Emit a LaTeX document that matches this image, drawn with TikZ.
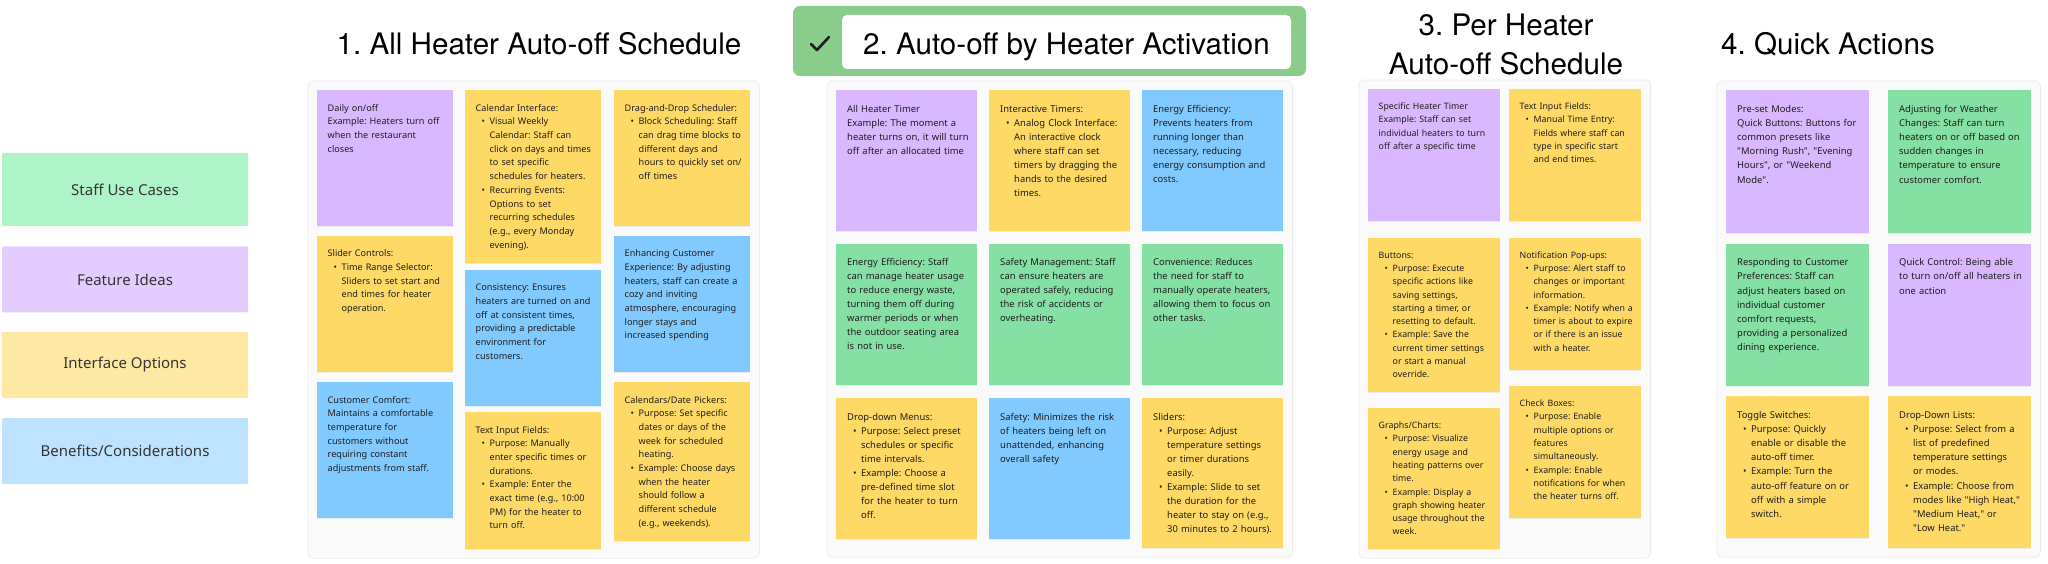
\documentclass[tikz,border=0pt]{standalone}
\usepackage{fontspec}
\usepackage{xcolor}
\usepackage{tikz}
\usetikzlibrary{positioning,fit,backgrounds,shadows}
\newfontfamily\notefont{Noto Sans}
\newfontfamily\titlefont{TeX Gyre Heros}
\frenchspacing
\definecolor{ideaViolet}{HTML}{D9B8FF}
\definecolor{uiYellow}{HTML}{FFD966}
\definecolor{benefitBlue}{HTML}{80CAFF}
\definecolor{useGreen}{HTML}{85E0A3}
\definecolor{keyViolet}{HTML}{E4CCFF}
\definecolor{keyYellow}{HTML}{FFE8A3}
\definecolor{keyBlue}{HTML}{BDE3FF}
\definecolor{keyGreen}{HTML}{AFF4C6}
\definecolor{panelGray}{HTML}{FAFAFA}
\definecolor{panelLine}{HTML}{EBEBEB}
\definecolor{tabGreen}{HTML}{8ACC8A}
\definecolor{ink}{HTML}{1E1E1E}
% bullet item with hanging indent, lines broken by hand
\newcommand{\itm}[1]{\par\hangindent=14pt\hangafter=1\noindent
  \hbox to 14pt{\hskip 6pt\textbullet\hss}{\def\\{\hfil\break}#1}\par}
\tikzset{
  note/.style={anchor=north west,inner ysep=0pt,align=left,text=ink,
    execute at begin node={\rightskip=0pt plus 1fil minus 30pt\linepenalty=9000\relax},
    drop shadow={shadow xshift=0pt,shadow yshift=-1.2pt,opacity=0.12}},
  onenote/.style={note,inner xsep=10.5pt,text width=115pt,text height=21pt,
    font=\notefont\fontsize{9.1}{13.7}\selectfont},
  twonote/.style={note,inner xsep=11pt,text width=119pt,text height=22pt,
    font=\notefont\fontsize{9.4}{14}\selectfont},
  threenote/.style={note,inner xsep=10.5pt,text width=111pt,text height=20.5pt,
    font=\notefont\fontsize{8.8}{13.3}\selectfont},
  fournote/.style={note,inner xsep=11pt,text width=121pt,text height=22pt,
    font=\notefont\fontsize{9.4}{14.2}\selectfont},
  idea/.style={fill=ideaViolet},
  ui/.style={fill=uiYellow},
  benefit/.style={fill=benefitBlue},
  usecase/.style={fill=useGreen},
  key/.style={minimum width=246pt,inner sep=0pt,rounded corners=1pt,text=ink!90,
    font=\notefont\fontsize{15}{17}\selectfont},
  panel/.style={draw=panelLine,fill=panelGray,line width=0.8pt,rounded corners=5pt,inner sep=9pt},
  heading/.style={font=\titlefont\fontsize{29.6}{39}\selectfont,text=black,align=center,inner sep=0pt},
  tab/.style={fill=tabGreen,rounded corners=7pt,minimum width=513pt,minimum height=70pt},
  tabface/.style={heading,fill=white,rounded corners=5pt,minimum width=449pt,minimum height=54pt,
    text height=26pt,text depth=0pt},
  checkmark/.style={draw=ink,line width=2.6pt,line cap=round,line join=round}
}

\begin{document}
\begin{tikzpicture}[x=1pt,y=-1pt]
  \useasboundingbox (0,0) rectangle (2048,564);

  % legend
  \node[key, fill=keyGreen, minimum height=73pt] (kuse) at (125,189.5) {Staff Use Cases};
  \node[key, fill=keyViolet, minimum height=66pt, below=20pt of kuse] (kidea) {Feature Ideas};
  \node[key, fill=keyYellow, minimum height=66pt, below=19pt of kidea] (kui) {Interface Options};
  \node[key, fill=keyBlue, minimum height=66pt, below=20pt of kui] (kbenefit) {Benefits/Considerations};

  % 1. all heater schedule
  \node[heading, anchor=base] (head1) at (539,55) {1. All Heater Auto-off Schedule};
  \node[onenote, idea, text depth=115pt] (a1) at (317,90) {Daily on/off\\Example: Heaters turn off\\when the restaurant\\closes};
  \node[onenote, ui, below=9pt of a1, text depth=115pt] (a2) {Slider Controls:\itm{Time Range Selector:\\Sliders to set start and\\end times for heater\\operation.}};
  \node[onenote, benefit, below=10pt of a2, text depth=115pt] (a3) {Customer Comfort:\\Maintains a comfortable\\temperature for\\customers without\\requiring constant\\adjustments from staff.};
  \node[onenote, ui, text depth=152pt] (b1) at (465,90) {Calendar Interface:\itm{Visual Weekly\\Calendar: Staff can\\click on days and times\\to set specific\\schedules for heaters.}\itm{Recurring Events:\\Options to set\\recurring schedules\\(e.g., every Monday\\evening).}};
  \node[onenote, benefit, below=6pt of b1, text depth=115pt] (b2) {Consistency: Ensures\\heaters are turned on and\\off at consistent times,\\providing a predictable\\environment for\\customers.};
  \node[onenote, ui, below=6pt of b2, text depth=116pt] (b3) {Text Input Fields:\itm{Purpose: Manually\\enter specific times or\\durations.}\itm{Example: Enter the\\exact time (e.g., 10:00\\PM) for the heater to\\turn off.}};
  \node[onenote, ui, text depth=115pt] (c1) at (614,90) {Drag-and-Drop Scheduler:\itm{Block Scheduling: Staff\\can drag time blocks to\\different days and\\hours to quickly set on/\\off times}};
  \node[onenote, benefit, below=9pt of c1, text depth=115pt] (c2) {Enhancing Customer\\Experience: By adjusting\\heaters, staff can create a\\cozy and inviting\\atmosphere, encouraging\\longer stays and\\increased spending};
  \node[onenote, ui, below=10pt of c2, text depth=138pt] (c3) {Calendars/Date Pickers:\itm{Purpose: Set specific\\dates or days of the\\week for scheduled\\heating.}\itm{Example: Choose days\\when the heater\\should follow a\\different schedule\\(e.g., weekends).}};

  % 2. activation timer (selected)
  \node[tab] (tab) at (1049.5,41) {};
  \node[tabface] (head2) at (1066.5,42) {2. Auto-off by Heater Activation};
  \draw[checkmark] (811,44) -- (817,50) -- (829,37);
  \node[twonote, idea, text depth=119pt] (d1) at (836,90) {All Heater Timer\\Example: The moment a\\heater turns on, it will turn\\off after an allocated time};
  \node[twonote, usecase, below=12pt of d1, text depth=119pt] (d2) {Energy Efficiency: Staff\\can manage heater usage\\to reduce energy waste,\\turning them off during\\warmer periods or when\\the outdoor seating area\\is not in use.};
  \node[twonote, ui, below=13pt of d2, text depth=119pt] (d3) {Drop-down Menus:\itm{Purpose: Select preset\\schedules or specific\\time intervals.}\itm{Example: Choose a\\pre-defined time slot\\for the heater to turn\\off.}};
  \node[twonote, ui, text depth=119pt] (e1) at (989,90) {Interactive Timers:\itm{Analog Clock Interface:\\An interactive clock\\where staff can set\\timers by dragging the\\hands to the desired\\times.}};
  \node[twonote, usecase, below=12pt of e1, text depth=119pt] (e2) {Safety Management: Staff\\can ensure heaters are\\operated safely, reducing\\the risk of accidents or\\overheating.};
  \node[twonote, benefit, below=13pt of e2, text depth=119pt] (e3) {Safety: Minimizes the risk\\of heaters being left on\\unattended, enhancing\\overall safety};
  \node[twonote, benefit, text depth=119pt] (f1) at (1142,90) {Energy Efficiency:\\Prevents heaters from\\running longer than\\necessary, reducing\\energy consumption and\\costs.};
  \node[twonote, usecase, below=12pt of f1, text depth=119pt] (f2) {Convenience: Reduces\\the need for staff to\\manually operate heaters,\\allowing them to focus on\\other tasks.};
  \node[twonote, ui, below=13pt of f2, text depth=128pt] (f3) {Sliders:\itm{Purpose: Adjust\\temperature settings\\or timer durations\\easily.}\itm{Example: Slide to set\\the duration for the\\heater to stay on (e.g.,\\30 minutes to 2 hours).}};

  % 3. per heater schedule
  \node[heading] (head3) at (1506,44.5) {3. Per Heater\\Auto-off Schedule};
  \node[threenote, idea, text depth=111.5pt] (g1) at (1368,89) {Specific Heater Timer\\Example: Staff can set\\individual heaters to turn\\off after a specific time};
  \node[threenote, ui, below=16pt of g1, text depth=133.5pt] (g2) {Buttons:\itm{Purpose: Execute\\specific actions like\\saving settings,\\starting a timer, or\\resetting to default.}\itm{Example: Save the\\current timer settings\\or start a manual\\override.}};
  \node[threenote, ui, below=16pt of g2, text depth=120.5pt] (g3) {Graphs/Charts:\itm{Purpose: Visualize\\energy usage and\\heating patterns over\\time.}\itm{Example: Display a\\graph showing heater\\usage throughout the\\week.}};
  \node[threenote, ui, text depth=111.5pt] (h1) at (1509,89) {Text Input Fields:\itm{Manual Time Entry:\\Fields where staff can\\type in specific start\\and end times.}};
  \node[threenote, ui, below=16pt of h1, text depth=111.5pt] (h2) {Notification Pop-ups:\itm{Purpose: Alert staff to\\changes or important\\information.}\itm{Example: Notify when a\\timer is about to expire\\or if there is an issue\\with a heater.}};
  \node[threenote, ui, below=16pt of h2, text depth=111.5pt] (h3) {Check Boxes:\itm{Purpose: Enable\\multiple options or\\features\\simultaneously.}\itm{Example: Enable\\notifications for when\\the heater turns off.}};

  % 4. quick actions
  \node[heading, anchor=base] (head4) at (1828,55) {4. Quick Actions};
  \node[fournote, idea, text depth=121pt] (i1) at (1726,90) {Pre-set Modes:\\Quick Buttons: Buttons for\\common presets like\\"Morning Rush", "Evening\\Hours", or "Weekend\\Mode".};
  \node[fournote, usecase, below=10pt of i1, text depth=120pt] (i2) {Responding to Customer\\Preferences: Staff can\\adjust heaters based on\\individual customer\\comfort requests,\\providing a personalized\\dining experience.};
  \node[fournote, ui, below=10pt of i2, text depth=120pt] (i3) {Toggle Switches:\itm{Purpose: Quickly\\enable or disable the\\auto-off timer.}\itm{Example: Turn the\\auto-off feature on or\\off with a simple\\switch.}};
  \node[fournote, usecase, text depth=121pt] (j1) at (1888,90) {Adjusting for Weather\\Changes: Staff can turn\\heaters on or off based on\\sudden changes in\\temperature to ensure\\customer comfort.};
  \node[fournote, idea, below=10pt of j1, text depth=120pt] (j2) {Quick Control: Being able\\to turn on/off all heaters in\\one action};
  \node[fournote, ui, below=10pt of j2, text depth=130pt] (j3) {Drop-Down Lists:\itm{Purpose: Select from a\\list of predefined\\temperature settings\\or modes.}\itm{Example: Choose from\\modes like "High Heat,"\\"Medium Heat," or\\"Low Heat."}};

  \begin{scope}[on background layer]
    \node[panel, fit=(a1)(c1)(b3)] (panel1) {};
    \node[panel, fit=(d1)(f3)] (panel2) {};
    \node[panel, fit=(g1)(h1)(g3)] (panel3) {};
    \node[panel, fit=(i1)(j3)] (panel4) {};
  \end{scope}
\end{tikzpicture}
\end{document}
